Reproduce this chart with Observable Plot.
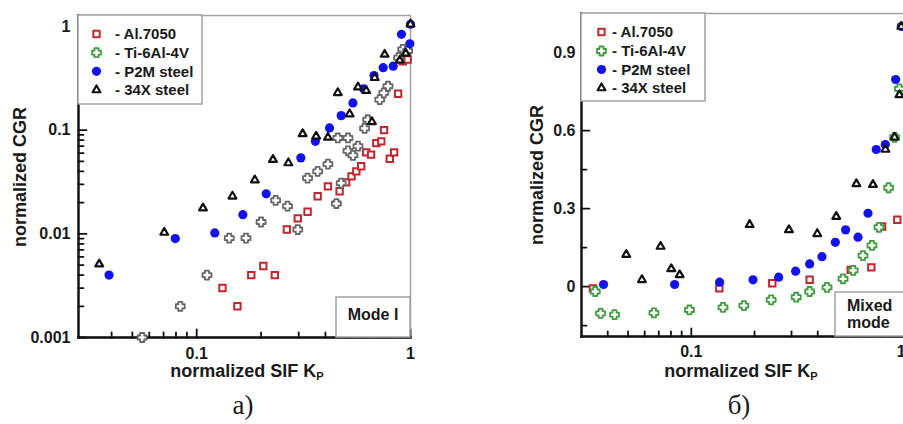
<!DOCTYPE html>
<html>
<head>
<meta charset="utf-8">
<script src="https://cdn.jsdelivr.net/npm/d3@7"></script>
<script src="https://cdn.jsdelivr.net/npm/@observablehq/plot@0.6"></script>
<style>
  html, body { margin: 0; padding: 0; background: #fff; }
  #fig { position: relative; width: 903px; height: 424px; overflow: hidden;
         font-family: "Liberation Sans", Arial, sans-serif; color: #1a1a1a; }
  #fig > svg { position: absolute; top: 0; }
  .axlab { position: absolute; font-weight: bold; font-size: 18px; white-space: nowrap;
           transform: translate(-50%, -50%); line-height: 1; }
  .axlab sub { font-size: 11px; vertical-align: -3px; }
  .rot { transform: translate(-50%, -50%) rotate(-90deg); }
  .panel-tag { position: absolute; font-family: "Liberation Serif", "Times New Roman", serif;
               font-size: 27px; transform: translateX(-50%); line-height: 1; }
</style>
</head>
<body>
<div id="fig"></div>
<script>
// ---- Mode I (log–log): normalized SIF Kp vs normalized CGR ----
const alK1 = [0.132, 0.155, 0.18, 0.205, 0.232, 0.264, 0.297, 0.33, 0.368, 0.411, 0.466, 0.5, 0.53, 0.558, 0.588, 0.621, 0.654, 0.692, 0.73, 0.752, 0.8, 0.838, 0.875, 0.92, 0.97];
const alG1 = [0.003, 0.002, 0.004, 0.0049, 0.004, 0.011, 0.0141, 0.0163, 0.023, 0.0287, 0.0257, 0.0313, 0.0358, 0.04, 0.0448, 0.061, 0.058, 0.075, 0.078, 0.1, 0.053, 0.061, 0.224, 0.46, 0.48];
const tiK1 = [0.0556, 0.0838, 0.1117, 0.142, 0.17, 0.2, 0.234, 0.266, 0.297, 0.33, 0.368, 0.411, 0.45, 0.474, 0.457, 0.51, 0.51, 0.538, 0.568, 0.61, 0.631, 0.718, 0.75, 0.785, 0.88, 0.92, 0.97];
const tiG1 = [0.001, 0.002, 0.004, 0.0091, 0.0091, 0.013, 0.021, 0.0185, 0.011, 0.0345, 0.04, 0.047, 0.0196, 0.0308, 0.084, 0.084, 0.063, 0.057, 0.07, 0.104, 0.126, 0.197, 0.229, 0.265, 0.5, 0.6, 0.58];
const p2mK1 = [0.0389, 0.0794, 0.1215, 0.1644, 0.2114, 0.307, 0.359, 0.418, 0.474, 0.538, 0.603, 0.675, 0.745, 0.83, 0.907, 0.993, 1.0];
const p2mG1 = [0.004, 0.009, 0.0102, 0.0153, 0.0243, 0.054, 0.078, 0.105, 0.138, 0.183, 0.25, 0.336, 0.40, 0.414, 0.84, 0.68, 1.05];
const s34K1 = [0.035, 0.0705, 0.107, 0.147, 0.187, 0.2274, 0.2684, 0.313, 0.362, 0.411, 0.457, 0.519, 0.568, 0.621, 0.66, 0.68, 0.757, 0.89, 0.95, 1.0];
const s34G1 = [0.0051, 0.0103, 0.0177, 0.023, 0.033, 0.0519, 0.0482, 0.092, 0.087, 0.085, 0.229, 0.143, 0.26, 0.24, 0.12, 0.32, 0.537, 0.47, 0.55, 1.05];

// ---- Mixed mode (log x, linear y) ----
const alK2 = [0.034, 0.136, 0.243, 0.366, 0.574, 0.72, 0.81, 0.957];
const alG2 = [-0.007, -0.007, 0.013, 0.026, 0.064, 0.074, 0.231, 0.257];
const tiK2 = [0.0349, 0.037, 0.0431, 0.0664, 0.098, 0.1416, 0.178, 0.24, 0.316, 0.366, 0.443, 0.528, 0.59, 0.657, 0.725, 0.783, 0.87, 0.929, 0.98];
const tiG2 = [-0.019, -0.103, -0.108, -0.101, -0.09, -0.08, -0.073, -0.051, -0.041, -0.019, -0.003, 0.03, 0.062, 0.119, 0.158, 0.228, 0.38, 0.574, 0.76];
const p2mK2 = [0.0382, 0.0833, 0.1364, 0.1967, 0.2606, 0.3139, 0.366, 0.419, 0.485, 0.543, 0.622, 0.694, 0.76, 0.839, 0.94, 1.0];
const p2mG2 = [0.008, 0.008, 0.017, 0.026, 0.036, 0.059, 0.087, 0.115, 0.17, 0.218, 0.19, 0.282, 0.527, 0.546, 0.796, 1.0];
const s34K2 = [0.049, 0.0582, 0.0714, 0.0803, 0.088, 0.1896, 0.2918, 0.398, 0.49, 0.611, 0.733, 0.84, 0.929, 0.98, 1.0];
const s34G2 = [0.123, 0.026, 0.154, 0.068, 0.045, 0.238, 0.218, 0.203, 0.269, 0.395, 0.392, 0.527, 0.574, 0.737, 1.0];

// Legend entries and tick values
const materials = ["- Al.7050", "- Ti-6Al-4V", "- P2M steel", "- 34X steel"];
const logMajorX = [0.1, 1];
const logMinorX = [0.04, 0.05, 0.06, 0.07, 0.08, 0.09, 0.2, 0.3, 0.4, 0.5, 0.6, 0.7, 0.8, 0.9];
const logMajorY = [0.001, 0.01, 0.1, 1];
const logMinorY = [0.002, 0.003, 0.004, 0.005, 0.006, 0.007, 0.008, 0.009,
                   0.02, 0.03, 0.04, 0.05, 0.06, 0.07, 0.08, 0.09,
                   0.2, 0.3, 0.4, 0.5, 0.6, 0.7, 0.8, 0.9];
const linMajorY = [0, 0.3, 0.6, 0.9];
const linMinorY = [-0.15, 0.15, 0.45, 0.75];

const RED = "#c0262d", GREEN = "#3f9c3f", GRAY = "#666", BLUE = "#1212ee", BLACK = "#111";
const FONT = "Liberation Sans, Arial, sans-serif";

// Four-armed outline marker used for Ti-6Al-4V
const plusMarker = {
  draw(ctx, size) {
    const R = Math.sqrt(size / Math.PI) * 1.15, a = R * 0.45;
    ctx.moveTo(-a, -R); ctx.lineTo(a, -R); ctx.lineTo(a, -a); ctx.lineTo(R, -a);
    ctx.lineTo(R, a); ctx.lineTo(a, a); ctx.lineTo(a, R); ctx.lineTo(-a, R);
    ctx.lineTo(-a, a); ctx.lineTo(-R, a); ctx.lineTo(-R, -a); ctx.lineTo(-a, -a);
    ctx.closePath();
  }
};

// Straight tick line for vector marks
const tickShape = {
  draw(ctx, l) { ctx.moveTo(0, 0); ctx.lineTo(0, -l); }
};

const rows = (ks, gs) => ks.map((k, i) => ({k, g: gs[i]}));

function seriesMarks(al, ti, p2m, s34, tiColor) {
  return [
    Plot.dot(al, {x: "k", y: "g", symbol: "square", r: 3.6, stroke: RED, strokeWidth: 2, fill: "white"}),
    Plot.dot(ti, {x: "k", y: "g", symbol: plusMarker, r: 3.9, stroke: tiColor, strokeWidth: 1.8, strokeLinejoin: "round", fill: "white"}),
    Plot.dot(p2m, {x: "k", y: "g", r: 4.6, fill: BLUE, stroke: "none"}),
    Plot.dot(s34, {x: "k", y: "g", symbol: "triangle", r: 2.9, stroke: BLACK, strokeWidth: 2.2, strokeLinejoin: "round", fill: "white"})
  ];
}

const textStyle = {fontSize: 16, fontWeight: "bold", fontFamily: FONT, fill: "#1a1a1a"};

function frameMarks() {
  return [
    Plot.frame({stroke: "#a3a3a3", strokeWidth: 1.5}),
    Plot.frame({anchor: "left", stroke: BLACK, strokeWidth: 2.4}),
    Plot.frame({anchor: "bottom", stroke: BLACK, strokeWidth: 2.4})
  ];
}

// Inward-pointing tick marks along the bottom and left frame edges
const ticksX = (values, len) => Plot.vector(values, {
  x: d => d, frameAnchor: "bottom", length: len, rotate: 0, anchor: "start",
  shape: tickShape, stroke: BLACK, strokeWidth: 1.8
});
const ticksY = (values, len) => Plot.vector(values, {
  y: d => d, frameAnchor: "left", length: len, rotate: 90, anchor: "start",
  shape: tickShape, stroke: BLACK, strokeWidth: 1.8
});

// Mode I panel
const plotA = Plot.plot({
  width: 430, height: 380,
  marginLeft: 78, marginRight: 20, marginTop: 15, marginBottom: 43,
  style: {fontFamily: FONT, background: "transparent", overflow: "visible"},
  x: {type: "log", domain: [0.028, 1]},
  y: {type: "log", domain: [0.001, 1.275]},
  marks: [
    ...frameMarks(),
    ticksX(logMinorX, 5),
    ticksX(logMajorX, 8),
    Plot.axisX(logMajorX, {tickSize: 0, tickPadding: 10, tickFormat: d => String(d), label: null, ...textStyle}),
    ticksY(logMinorY, 5),
    ticksY(logMajorY, 8),
    Plot.axisY(logMajorY, {tickSize: 0, tickPadding: 8, tickFormat: d => String(d), label: null, ...textStyle}),
    ...seriesMarks(rows(alK1, alG1), rows(tiK1, tiG1), rows(p2mK1, p2mG1), rows(s34K1, s34G1), GRAY)
  ]
});
plotA.style.left = "0px";

// Mixed-mode panel
const plotB = Plot.plot({
  width: 440, height: 380,
  marginLeft: 101, marginRight: 16.5, marginTop: 13, marginBottom: 44,
  style: {fontFamily: FONT, background: "transparent", overflow: "visible"},
  x: {type: "log", domain: [0.03, 1.03]},
  y: {type: "linear", domain: [-0.192, 1.05]},
  marks: [
    ...frameMarks(),
    ticksX(logMinorX, 5),
    ticksX(logMajorX, 8),
    Plot.axisX(logMajorX, {tickSize: 0, tickPadding: 9, tickFormat: d => String(d), label: null, ...textStyle}),
    ticksY(linMinorY, 5),
    ticksY(linMajorY, 8),
    Plot.axisY(linMajorY, {tickSize: 0, tickPadding: 6, tickFormat: d => String(d), label: null, ...textStyle}),
    ...seriesMarks(rows(alK2, alG2), rows(tiK2, tiG2), rows(p2mK2, p2mG2), rows(s34K2, s34G2), GREEN)
  ]
});
plotB.style.left = "480px";

const fig = document.getElementById("fig");
fig.append(plotA, plotB);

// Legends and mode boxes
const over = d3.select(fig).append("svg")
  .attr("width", 903).attr("height", 424)
  .style("left", "0px").style("pointer-events", "none");

const legendSymbols = [
  {type: d3.symbolSquare, size: Math.PI * 3.6 * 3.6, stroke: RED, fill: "white", sw: 2},
  {type: plusMarker, size: Math.PI * 3.9 * 3.9, stroke: GREEN, fill: "white", sw: 1.8},
  {type: d3.symbolCircle, size: Math.PI * 4.6 * 4.6, stroke: "none", fill: BLUE, sw: 0},
  {type: d3.symbolTriangle, size: Math.PI * 2.9 * 2.9, stroke: BLACK, fill: "white", sw: 2.2}
];

function legend(box, markX, textX, rowY) {
  over.append("rect").attr("x", box[0]).attr("y", box[1]).attr("width", box[2]).attr("height", box[3])
    .attr("fill", "white").attr("stroke", "#a3a3a3").attr("stroke-width", 1.5);
  materials.forEach((name, i) => {
    const s = legendSymbols[i];
    over.append("path").attr("d", d3.symbol(s.type, s.size)())
      .attr("transform", `translate(${markX},${rowY[i]})`)
      .attr("fill", s.fill).attr("stroke", s.stroke).attr("stroke-width", s.sw)
      .attr("stroke-linejoin", "round");
    over.append("text").attr("x", textX).attr("y", rowY[i]).attr("dy", "0.36em")
      .attr("font-family", FONT).attr("font-weight", "bold").attr("font-size", 15)
      .attr("fill", "#1a1a1a").text(name);
  });
}
legend([78, 15, 124, 89], 96.5, 115, [34, 52.7, 71.3, 90]);
legend([581, 13, 124, 88], 601.5, 612, [32, 51, 69.5, 88]);

over.append("rect").attr("x", 336).attr("y", 297).attr("width", 74).attr("height", 40)
  .attr("fill", "white").attr("stroke", "#a3a3a3").attr("stroke-width", 1.5);
over.append("text").attr("x", 373).attr("y", 320).attr("text-anchor", "middle")
  .attr("font-family", FONT).attr("font-weight", "bold").attr("font-size", 16).attr("fill", "#1a1a1a")
  .text("Mode I");
over.append("rect").attr("x", 835).attr("y", 292).attr("width", 80).attr("height", 44)
  .attr("fill", "white").attr("stroke", "#a3a3a3").attr("stroke-width", 1.5);
const mm = over.append("text").attr("font-family", FONT).attr("font-weight", "bold")
  .attr("font-size", 16).attr("fill", "#1a1a1a");
mm.append("tspan").attr("x", 847).attr("y", 311).text("Mixed");
mm.append("tspan").attr("x", 847).attr("y", 328).text("mode");

// Axis titles and panel tags
function addLabel(html, x, y, cls) {
  const d = document.createElement("div");
  d.className = cls;
  d.style.left = x + "px";
  d.style.top = y + "px";
  d.innerHTML = html;
  fig.appendChild(d);
}
addLabel("normalized SIF K<sub>P</sub>", 247, 372, "axlab");
addLabel("normalized SIF K<sub>P</sub>", 741, 372, "axlab");
addLabel("normalized CGR", 20, 177, "axlab rot");
addLabel("normalized CGR", 537, 175, "axlab rot");
addLabel("a)", 243, 392, "panel-tag");
addLabel("б)", 739, 392, "panel-tag");
</script>
</body>
</html>
